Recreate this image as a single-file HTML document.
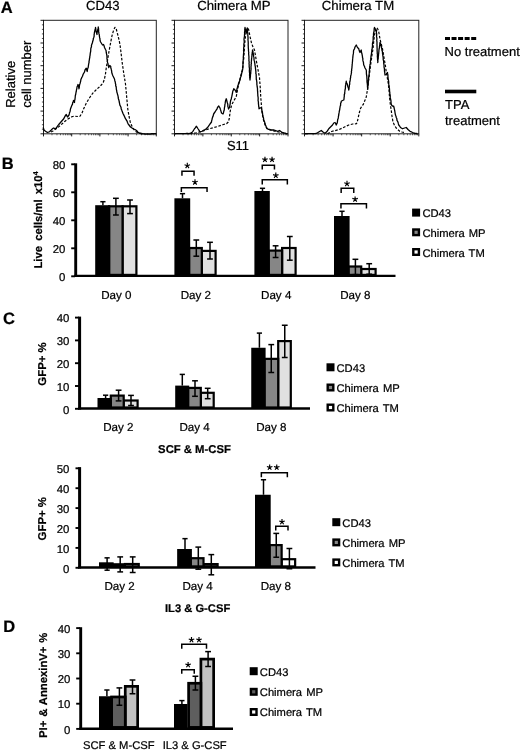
<!DOCTYPE html>
<html><head><meta charset="utf-8"><title>Figure</title>
<style>html,body{margin:0;padding:0;background:#fff;}svg{display:block;will-change:transform;}text{font-family:'Liberation Sans', sans-serif;fill:#000;stroke:#000;stroke-width:0.22px;text-rendering:geometricPrecision;}</style>
</head><body>
<svg width="520" height="752" viewBox="0 0 520 752">
<rect width="520" height="752" fill="#fff"/>
<text x="0.8" y="12.7" font-size="16.5" font-weight="bold" text-anchor="start" >A</text>
<text x="102.8" y="10.3" font-size="13.1" font-weight="normal" text-anchor="middle" >CD43</text>
<text x="233.9" y="10.1" font-size="13.2" font-weight="normal" text-anchor="middle" >Chimera MP</text>
<text x="358.0" y="9.6" font-size="13.2" font-weight="normal" text-anchor="middle" >Chimera TM</text>
<text transform="translate(14.6,107.8) rotate(-90)" font-size="13" font-weight="normal" text-anchor="start" >Relative</text>
<text transform="translate(30.6,107.8) rotate(-90)" font-size="13" font-weight="normal" text-anchor="start" >cell number</text>
<text x="238" y="150" font-size="13" font-weight="normal" text-anchor="middle" >S11</text>
<rect x="43.5" y="20.3" width="112.80000000000001" height="113.50000000000001" fill="none" stroke="#222" stroke-width="1"/>
<line x1="40.5" y1="20.3" x2="43.5" y2="20.3" stroke="#000" stroke-width="0.9" />
<line x1="41.9" y1="24.840000000000003" x2="43.5" y2="24.840000000000003" stroke="#000" stroke-width="0.7" stroke="#444"/>
<line x1="41.9" y1="29.380000000000003" x2="43.5" y2="29.380000000000003" stroke="#000" stroke-width="0.7" stroke="#444"/>
<line x1="41.9" y1="33.92" x2="43.5" y2="33.92" stroke="#000" stroke-width="0.7" stroke="#444"/>
<line x1="41.9" y1="38.46000000000001" x2="43.5" y2="38.46000000000001" stroke="#000" stroke-width="0.7" stroke="#444"/>
<line x1="40.5" y1="43.0" x2="43.5" y2="43.0" stroke="#000" stroke-width="0.9" />
<line x1="41.9" y1="47.54" x2="43.5" y2="47.54" stroke="#000" stroke-width="0.7" stroke="#444"/>
<line x1="41.9" y1="52.08" x2="43.5" y2="52.08" stroke="#000" stroke-width="0.7" stroke="#444"/>
<line x1="41.9" y1="56.620000000000005" x2="43.5" y2="56.620000000000005" stroke="#000" stroke-width="0.7" stroke="#444"/>
<line x1="41.9" y1="61.160000000000004" x2="43.5" y2="61.160000000000004" stroke="#000" stroke-width="0.7" stroke="#444"/>
<line x1="40.5" y1="65.7" x2="43.5" y2="65.7" stroke="#000" stroke-width="0.9" />
<line x1="41.9" y1="70.24000000000001" x2="43.5" y2="70.24000000000001" stroke="#000" stroke-width="0.7" stroke="#444"/>
<line x1="41.9" y1="74.78" x2="43.5" y2="74.78" stroke="#000" stroke-width="0.7" stroke="#444"/>
<line x1="41.9" y1="79.32000000000001" x2="43.5" y2="79.32000000000001" stroke="#000" stroke-width="0.7" stroke="#444"/>
<line x1="41.9" y1="83.86000000000001" x2="43.5" y2="83.86000000000001" stroke="#000" stroke-width="0.7" stroke="#444"/>
<line x1="40.5" y1="88.4" x2="43.5" y2="88.4" stroke="#000" stroke-width="0.9" />
<line x1="41.9" y1="92.94000000000001" x2="43.5" y2="92.94000000000001" stroke="#000" stroke-width="0.7" stroke="#444"/>
<line x1="41.9" y1="97.48" x2="43.5" y2="97.48" stroke="#000" stroke-width="0.7" stroke="#444"/>
<line x1="41.9" y1="102.02000000000001" x2="43.5" y2="102.02000000000001" stroke="#000" stroke-width="0.7" stroke="#444"/>
<line x1="41.9" y1="106.56" x2="43.5" y2="106.56" stroke="#000" stroke-width="0.7" stroke="#444"/>
<line x1="40.5" y1="111.10000000000001" x2="43.5" y2="111.10000000000001" stroke="#000" stroke-width="0.9" />
<line x1="41.9" y1="115.64000000000001" x2="43.5" y2="115.64000000000001" stroke="#000" stroke-width="0.7" stroke="#444"/>
<line x1="41.9" y1="120.18" x2="43.5" y2="120.18" stroke="#000" stroke-width="0.7" stroke="#444"/>
<line x1="41.9" y1="124.72000000000001" x2="43.5" y2="124.72000000000001" stroke="#000" stroke-width="0.7" stroke="#444"/>
<line x1="41.9" y1="129.26000000000002" x2="43.5" y2="129.26000000000002" stroke="#000" stroke-width="0.7" stroke="#444"/>
<line x1="40.5" y1="133.80000000000004" x2="43.5" y2="133.80000000000004" stroke="#000" stroke-width="0.9" />
<line x1="43.5" y1="133.8" x2="43.5" y2="136.4" stroke="#000" stroke-width="0.9" />
<line x1="51.98904587772427" y1="133.8" x2="51.98904587772427" y2="135.3" stroke="#000" stroke-width="0.6" stroke="#555"/>
<line x1="56.95481938309448" y1="133.8" x2="56.95481938309448" y2="135.3" stroke="#000" stroke-width="0.6" stroke="#555"/>
<line x1="60.478091755448546" y1="133.8" x2="60.478091755448546" y2="135.3" stroke="#000" stroke-width="0.6" stroke="#555"/>
<line x1="63.21095412227574" y1="133.8" x2="63.21095412227574" y2="135.3" stroke="#000" stroke-width="0.6" stroke="#555"/>
<line x1="65.44386526081875" y1="133.8" x2="65.44386526081875" y2="135.3" stroke="#000" stroke-width="0.6" stroke="#555"/>
<line x1="67.33176472840205" y1="133.8" x2="67.33176472840205" y2="135.3" stroke="#000" stroke-width="0.6" stroke="#555"/>
<line x1="68.96713763317281" y1="133.8" x2="68.96713763317281" y2="135.3" stroke="#000" stroke-width="0.6" stroke="#555"/>
<line x1="70.40963876618896" y1="133.8" x2="70.40963876618896" y2="135.3" stroke="#000" stroke-width="0.6" stroke="#555"/>
<line x1="71.7" y1="133.8" x2="71.7" y2="136.4" stroke="#000" stroke-width="0.9" />
<line x1="80.18904587772427" y1="133.8" x2="80.18904587772427" y2="135.3" stroke="#000" stroke-width="0.6" stroke="#555"/>
<line x1="85.15481938309449" y1="133.8" x2="85.15481938309449" y2="135.3" stroke="#000" stroke-width="0.6" stroke="#555"/>
<line x1="88.67809175544855" y1="133.8" x2="88.67809175544855" y2="135.3" stroke="#000" stroke-width="0.6" stroke="#555"/>
<line x1="91.41095412227574" y1="133.8" x2="91.41095412227574" y2="135.3" stroke="#000" stroke-width="0.6" stroke="#555"/>
<line x1="93.64386526081876" y1="133.8" x2="93.64386526081876" y2="135.3" stroke="#000" stroke-width="0.6" stroke="#555"/>
<line x1="95.53176472840205" y1="133.8" x2="95.53176472840205" y2="135.3" stroke="#000" stroke-width="0.6" stroke="#555"/>
<line x1="97.16713763317281" y1="133.8" x2="97.16713763317281" y2="135.3" stroke="#000" stroke-width="0.6" stroke="#555"/>
<line x1="98.60963876618897" y1="133.8" x2="98.60963876618897" y2="135.3" stroke="#000" stroke-width="0.6" stroke="#555"/>
<line x1="99.9" y1="133.8" x2="99.9" y2="136.4" stroke="#000" stroke-width="0.9" />
<line x1="108.38904587772427" y1="133.8" x2="108.38904587772427" y2="135.3" stroke="#000" stroke-width="0.6" stroke="#555"/>
<line x1="113.3548193830945" y1="133.8" x2="113.3548193830945" y2="135.3" stroke="#000" stroke-width="0.6" stroke="#555"/>
<line x1="116.87809175544855" y1="133.8" x2="116.87809175544855" y2="135.3" stroke="#000" stroke-width="0.6" stroke="#555"/>
<line x1="119.61095412227574" y1="133.8" x2="119.61095412227574" y2="135.3" stroke="#000" stroke-width="0.6" stroke="#555"/>
<line x1="121.84386526081876" y1="133.8" x2="121.84386526081876" y2="135.3" stroke="#000" stroke-width="0.6" stroke="#555"/>
<line x1="123.73176472840206" y1="133.8" x2="123.73176472840206" y2="135.3" stroke="#000" stroke-width="0.6" stroke="#555"/>
<line x1="125.36713763317282" y1="133.8" x2="125.36713763317282" y2="135.3" stroke="#000" stroke-width="0.6" stroke="#555"/>
<line x1="126.80963876618897" y1="133.8" x2="126.80963876618897" y2="135.3" stroke="#000" stroke-width="0.6" stroke="#555"/>
<line x1="128.10000000000002" y1="133.8" x2="128.10000000000002" y2="136.4" stroke="#000" stroke-width="0.9" />
<line x1="136.5890458777243" y1="133.8" x2="136.5890458777243" y2="135.3" stroke="#000" stroke-width="0.6" stroke="#555"/>
<line x1="141.5548193830945" y1="133.8" x2="141.5548193830945" y2="135.3" stroke="#000" stroke-width="0.6" stroke="#555"/>
<line x1="145.07809175544855" y1="133.8" x2="145.07809175544855" y2="135.3" stroke="#000" stroke-width="0.6" stroke="#555"/>
<line x1="147.81095412227575" y1="133.8" x2="147.81095412227575" y2="135.3" stroke="#000" stroke-width="0.6" stroke="#555"/>
<line x1="150.0438652608188" y1="133.8" x2="150.0438652608188" y2="135.3" stroke="#000" stroke-width="0.6" stroke="#555"/>
<line x1="151.93176472840207" y1="133.8" x2="151.93176472840207" y2="135.3" stroke="#000" stroke-width="0.6" stroke="#555"/>
<line x1="153.56713763317282" y1="133.8" x2="153.56713763317282" y2="135.3" stroke="#000" stroke-width="0.6" stroke="#555"/>
<line x1="155.009638766189" y1="133.8" x2="155.009638766189" y2="135.3" stroke="#000" stroke-width="0.6" stroke="#555"/>
<line x1="156.3" y1="133.8" x2="156.3" y2="136.4" stroke="#000" stroke-width="0.9" />
<rect x="174.5" y="20.3" width="113.5" height="113.50000000000001" fill="none" stroke="#222" stroke-width="1"/>
<line x1="171.5" y1="20.3" x2="174.5" y2="20.3" stroke="#000" stroke-width="0.9" />
<line x1="172.9" y1="24.840000000000003" x2="174.5" y2="24.840000000000003" stroke="#000" stroke-width="0.7" stroke="#444"/>
<line x1="172.9" y1="29.380000000000003" x2="174.5" y2="29.380000000000003" stroke="#000" stroke-width="0.7" stroke="#444"/>
<line x1="172.9" y1="33.92" x2="174.5" y2="33.92" stroke="#000" stroke-width="0.7" stroke="#444"/>
<line x1="172.9" y1="38.46000000000001" x2="174.5" y2="38.46000000000001" stroke="#000" stroke-width="0.7" stroke="#444"/>
<line x1="171.5" y1="43.0" x2="174.5" y2="43.0" stroke="#000" stroke-width="0.9" />
<line x1="172.9" y1="47.54" x2="174.5" y2="47.54" stroke="#000" stroke-width="0.7" stroke="#444"/>
<line x1="172.9" y1="52.08" x2="174.5" y2="52.08" stroke="#000" stroke-width="0.7" stroke="#444"/>
<line x1="172.9" y1="56.620000000000005" x2="174.5" y2="56.620000000000005" stroke="#000" stroke-width="0.7" stroke="#444"/>
<line x1="172.9" y1="61.160000000000004" x2="174.5" y2="61.160000000000004" stroke="#000" stroke-width="0.7" stroke="#444"/>
<line x1="171.5" y1="65.7" x2="174.5" y2="65.7" stroke="#000" stroke-width="0.9" />
<line x1="172.9" y1="70.24000000000001" x2="174.5" y2="70.24000000000001" stroke="#000" stroke-width="0.7" stroke="#444"/>
<line x1="172.9" y1="74.78" x2="174.5" y2="74.78" stroke="#000" stroke-width="0.7" stroke="#444"/>
<line x1="172.9" y1="79.32000000000001" x2="174.5" y2="79.32000000000001" stroke="#000" stroke-width="0.7" stroke="#444"/>
<line x1="172.9" y1="83.86000000000001" x2="174.5" y2="83.86000000000001" stroke="#000" stroke-width="0.7" stroke="#444"/>
<line x1="171.5" y1="88.4" x2="174.5" y2="88.4" stroke="#000" stroke-width="0.9" />
<line x1="172.9" y1="92.94000000000001" x2="174.5" y2="92.94000000000001" stroke="#000" stroke-width="0.7" stroke="#444"/>
<line x1="172.9" y1="97.48" x2="174.5" y2="97.48" stroke="#000" stroke-width="0.7" stroke="#444"/>
<line x1="172.9" y1="102.02000000000001" x2="174.5" y2="102.02000000000001" stroke="#000" stroke-width="0.7" stroke="#444"/>
<line x1="172.9" y1="106.56" x2="174.5" y2="106.56" stroke="#000" stroke-width="0.7" stroke="#444"/>
<line x1="171.5" y1="111.10000000000001" x2="174.5" y2="111.10000000000001" stroke="#000" stroke-width="0.9" />
<line x1="172.9" y1="115.64000000000001" x2="174.5" y2="115.64000000000001" stroke="#000" stroke-width="0.7" stroke="#444"/>
<line x1="172.9" y1="120.18" x2="174.5" y2="120.18" stroke="#000" stroke-width="0.7" stroke="#444"/>
<line x1="172.9" y1="124.72000000000001" x2="174.5" y2="124.72000000000001" stroke="#000" stroke-width="0.7" stroke="#444"/>
<line x1="172.9" y1="129.26000000000002" x2="174.5" y2="129.26000000000002" stroke="#000" stroke-width="0.7" stroke="#444"/>
<line x1="171.5" y1="133.80000000000004" x2="174.5" y2="133.80000000000004" stroke="#000" stroke-width="0.9" />
<line x1="174.5" y1="133.8" x2="174.5" y2="136.4" stroke="#000" stroke-width="0.9" />
<line x1="183.04172612696547" y1="133.8" x2="183.04172612696547" y2="135.3" stroke="#000" stroke-width="0.6" stroke="#555"/>
<line x1="188.03831560267042" y1="133.8" x2="188.03831560267042" y2="135.3" stroke="#000" stroke-width="0.6" stroke="#555"/>
<line x1="191.58345225393094" y1="133.8" x2="191.58345225393094" y2="135.3" stroke="#000" stroke-width="0.6" stroke="#555"/>
<line x1="194.33327387303453" y1="133.8" x2="194.33327387303453" y2="135.3" stroke="#000" stroke-width="0.6" stroke="#555"/>
<line x1="196.5800417296359" y1="133.8" x2="196.5800417296359" y2="135.3" stroke="#000" stroke-width="0.6" stroke="#555"/>
<line x1="198.47965688540455" y1="133.8" x2="198.47965688540455" y2="135.3" stroke="#000" stroke-width="0.6" stroke="#555"/>
<line x1="200.1251783808964" y1="133.8" x2="200.1251783808964" y2="135.3" stroke="#000" stroke-width="0.6" stroke="#555"/>
<line x1="201.57663120534085" y1="133.8" x2="201.57663120534085" y2="135.3" stroke="#000" stroke-width="0.6" stroke="#555"/>
<line x1="202.875" y1="133.8" x2="202.875" y2="136.4" stroke="#000" stroke-width="0.9" />
<line x1="211.41672612696547" y1="133.8" x2="211.41672612696547" y2="135.3" stroke="#000" stroke-width="0.6" stroke="#555"/>
<line x1="216.41331560267042" y1="133.8" x2="216.41331560267042" y2="135.3" stroke="#000" stroke-width="0.6" stroke="#555"/>
<line x1="219.95845225393094" y1="133.8" x2="219.95845225393094" y2="135.3" stroke="#000" stroke-width="0.6" stroke="#555"/>
<line x1="222.70827387303453" y1="133.8" x2="222.70827387303453" y2="135.3" stroke="#000" stroke-width="0.6" stroke="#555"/>
<line x1="224.9550417296359" y1="133.8" x2="224.9550417296359" y2="135.3" stroke="#000" stroke-width="0.6" stroke="#555"/>
<line x1="226.85465688540455" y1="133.8" x2="226.85465688540455" y2="135.3" stroke="#000" stroke-width="0.6" stroke="#555"/>
<line x1="228.5001783808964" y1="133.8" x2="228.5001783808964" y2="135.3" stroke="#000" stroke-width="0.6" stroke="#555"/>
<line x1="229.95163120534085" y1="133.8" x2="229.95163120534085" y2="135.3" stroke="#000" stroke-width="0.6" stroke="#555"/>
<line x1="231.25" y1="133.8" x2="231.25" y2="136.4" stroke="#000" stroke-width="0.9" />
<line x1="239.79172612696547" y1="133.8" x2="239.79172612696547" y2="135.3" stroke="#000" stroke-width="0.6" stroke="#555"/>
<line x1="244.78831560267042" y1="133.8" x2="244.78831560267042" y2="135.3" stroke="#000" stroke-width="0.6" stroke="#555"/>
<line x1="248.33345225393094" y1="133.8" x2="248.33345225393094" y2="135.3" stroke="#000" stroke-width="0.6" stroke="#555"/>
<line x1="251.08327387303453" y1="133.8" x2="251.08327387303453" y2="135.3" stroke="#000" stroke-width="0.6" stroke="#555"/>
<line x1="253.3300417296359" y1="133.8" x2="253.3300417296359" y2="135.3" stroke="#000" stroke-width="0.6" stroke="#555"/>
<line x1="255.22965688540455" y1="133.8" x2="255.22965688540455" y2="135.3" stroke="#000" stroke-width="0.6" stroke="#555"/>
<line x1="256.8751783808964" y1="133.8" x2="256.8751783808964" y2="135.3" stroke="#000" stroke-width="0.6" stroke="#555"/>
<line x1="258.32663120534085" y1="133.8" x2="258.32663120534085" y2="135.3" stroke="#000" stroke-width="0.6" stroke="#555"/>
<line x1="259.625" y1="133.8" x2="259.625" y2="136.4" stroke="#000" stroke-width="0.9" />
<line x1="268.16672612696544" y1="133.8" x2="268.16672612696544" y2="135.3" stroke="#000" stroke-width="0.6" stroke="#555"/>
<line x1="273.1633156026704" y1="133.8" x2="273.1633156026704" y2="135.3" stroke="#000" stroke-width="0.6" stroke="#555"/>
<line x1="276.70845225393094" y1="133.8" x2="276.70845225393094" y2="135.3" stroke="#000" stroke-width="0.6" stroke="#555"/>
<line x1="279.45827387303456" y1="133.8" x2="279.45827387303456" y2="135.3" stroke="#000" stroke-width="0.6" stroke="#555"/>
<line x1="281.70504172963587" y1="133.8" x2="281.70504172963587" y2="135.3" stroke="#000" stroke-width="0.6" stroke="#555"/>
<line x1="283.60465688540455" y1="133.8" x2="283.60465688540455" y2="135.3" stroke="#000" stroke-width="0.6" stroke="#555"/>
<line x1="285.2501783808964" y1="133.8" x2="285.2501783808964" y2="135.3" stroke="#000" stroke-width="0.6" stroke="#555"/>
<line x1="286.70163120534085" y1="133.8" x2="286.70163120534085" y2="135.3" stroke="#000" stroke-width="0.6" stroke="#555"/>
<line x1="288" y1="133.8" x2="288" y2="136.4" stroke="#000" stroke-width="0.9" />
<rect x="304.5" y="20.3" width="114.30000000000001" height="113.50000000000001" fill="none" stroke="#222" stroke-width="1"/>
<line x1="301.5" y1="20.3" x2="304.5" y2="20.3" stroke="#000" stroke-width="0.9" />
<line x1="302.9" y1="24.840000000000003" x2="304.5" y2="24.840000000000003" stroke="#000" stroke-width="0.7" stroke="#444"/>
<line x1="302.9" y1="29.380000000000003" x2="304.5" y2="29.380000000000003" stroke="#000" stroke-width="0.7" stroke="#444"/>
<line x1="302.9" y1="33.92" x2="304.5" y2="33.92" stroke="#000" stroke-width="0.7" stroke="#444"/>
<line x1="302.9" y1="38.46000000000001" x2="304.5" y2="38.46000000000001" stroke="#000" stroke-width="0.7" stroke="#444"/>
<line x1="301.5" y1="43.0" x2="304.5" y2="43.0" stroke="#000" stroke-width="0.9" />
<line x1="302.9" y1="47.54" x2="304.5" y2="47.54" stroke="#000" stroke-width="0.7" stroke="#444"/>
<line x1="302.9" y1="52.08" x2="304.5" y2="52.08" stroke="#000" stroke-width="0.7" stroke="#444"/>
<line x1="302.9" y1="56.620000000000005" x2="304.5" y2="56.620000000000005" stroke="#000" stroke-width="0.7" stroke="#444"/>
<line x1="302.9" y1="61.160000000000004" x2="304.5" y2="61.160000000000004" stroke="#000" stroke-width="0.7" stroke="#444"/>
<line x1="301.5" y1="65.7" x2="304.5" y2="65.7" stroke="#000" stroke-width="0.9" />
<line x1="302.9" y1="70.24000000000001" x2="304.5" y2="70.24000000000001" stroke="#000" stroke-width="0.7" stroke="#444"/>
<line x1="302.9" y1="74.78" x2="304.5" y2="74.78" stroke="#000" stroke-width="0.7" stroke="#444"/>
<line x1="302.9" y1="79.32000000000001" x2="304.5" y2="79.32000000000001" stroke="#000" stroke-width="0.7" stroke="#444"/>
<line x1="302.9" y1="83.86000000000001" x2="304.5" y2="83.86000000000001" stroke="#000" stroke-width="0.7" stroke="#444"/>
<line x1="301.5" y1="88.4" x2="304.5" y2="88.4" stroke="#000" stroke-width="0.9" />
<line x1="302.9" y1="92.94000000000001" x2="304.5" y2="92.94000000000001" stroke="#000" stroke-width="0.7" stroke="#444"/>
<line x1="302.9" y1="97.48" x2="304.5" y2="97.48" stroke="#000" stroke-width="0.7" stroke="#444"/>
<line x1="302.9" y1="102.02000000000001" x2="304.5" y2="102.02000000000001" stroke="#000" stroke-width="0.7" stroke="#444"/>
<line x1="302.9" y1="106.56" x2="304.5" y2="106.56" stroke="#000" stroke-width="0.7" stroke="#444"/>
<line x1="301.5" y1="111.10000000000001" x2="304.5" y2="111.10000000000001" stroke="#000" stroke-width="0.9" />
<line x1="302.9" y1="115.64000000000001" x2="304.5" y2="115.64000000000001" stroke="#000" stroke-width="0.7" stroke="#444"/>
<line x1="302.9" y1="120.18" x2="304.5" y2="120.18" stroke="#000" stroke-width="0.7" stroke="#444"/>
<line x1="302.9" y1="124.72000000000001" x2="304.5" y2="124.72000000000001" stroke="#000" stroke-width="0.7" stroke="#444"/>
<line x1="302.9" y1="129.26000000000002" x2="304.5" y2="129.26000000000002" stroke="#000" stroke-width="0.7" stroke="#444"/>
<line x1="301.5" y1="133.80000000000004" x2="304.5" y2="133.80000000000004" stroke="#000" stroke-width="0.9" />
<line x1="304.5" y1="133.8" x2="304.5" y2="136.4" stroke="#000" stroke-width="0.9" />
<line x1="313.1019321260983" y1="133.8" x2="313.1019321260983" y2="135.3" stroke="#000" stroke-width="0.6" stroke="#555"/>
<line x1="318.1337398536144" y1="133.8" x2="318.1337398536144" y2="135.3" stroke="#000" stroke-width="0.6" stroke="#555"/>
<line x1="321.7038642521965" y1="133.8" x2="321.7038642521965" y2="135.3" stroke="#000" stroke-width="0.6" stroke="#555"/>
<line x1="324.47306787390175" y1="133.8" x2="324.47306787390175" y2="135.3" stroke="#000" stroke-width="0.6" stroke="#555"/>
<line x1="326.7356719797126" y1="133.8" x2="326.7356719797126" y2="135.3" stroke="#000" stroke-width="0.6" stroke="#555"/>
<line x1="328.6486764934074" y1="133.8" x2="328.6486764934074" y2="135.3" stroke="#000" stroke-width="0.6" stroke="#555"/>
<line x1="330.3057963782948" y1="133.8" x2="330.3057963782948" y2="135.3" stroke="#000" stroke-width="0.6" stroke="#555"/>
<line x1="331.7674797072287" y1="133.8" x2="331.7674797072287" y2="135.3" stroke="#000" stroke-width="0.6" stroke="#555"/>
<line x1="333.075" y1="133.8" x2="333.075" y2="136.4" stroke="#000" stroke-width="0.9" />
<line x1="341.6769321260983" y1="133.8" x2="341.6769321260983" y2="135.3" stroke="#000" stroke-width="0.6" stroke="#555"/>
<line x1="346.70873985361436" y1="133.8" x2="346.70873985361436" y2="135.3" stroke="#000" stroke-width="0.6" stroke="#555"/>
<line x1="350.2788642521965" y1="133.8" x2="350.2788642521965" y2="135.3" stroke="#000" stroke-width="0.6" stroke="#555"/>
<line x1="353.04806787390174" y1="133.8" x2="353.04806787390174" y2="135.3" stroke="#000" stroke-width="0.6" stroke="#555"/>
<line x1="355.3106719797126" y1="133.8" x2="355.3106719797126" y2="135.3" stroke="#000" stroke-width="0.6" stroke="#555"/>
<line x1="357.22367649340737" y1="133.8" x2="357.22367649340737" y2="135.3" stroke="#000" stroke-width="0.6" stroke="#555"/>
<line x1="358.8807963782948" y1="133.8" x2="358.8807963782948" y2="135.3" stroke="#000" stroke-width="0.6" stroke="#555"/>
<line x1="360.3424797072287" y1="133.8" x2="360.3424797072287" y2="135.3" stroke="#000" stroke-width="0.6" stroke="#555"/>
<line x1="361.65" y1="133.8" x2="361.65" y2="136.4" stroke="#000" stroke-width="0.9" />
<line x1="370.25193212609827" y1="133.8" x2="370.25193212609827" y2="135.3" stroke="#000" stroke-width="0.6" stroke="#555"/>
<line x1="375.28373985361435" y1="133.8" x2="375.28373985361435" y2="135.3" stroke="#000" stroke-width="0.6" stroke="#555"/>
<line x1="378.8538642521965" y1="133.8" x2="378.8538642521965" y2="135.3" stroke="#000" stroke-width="0.6" stroke="#555"/>
<line x1="381.62306787390173" y1="133.8" x2="381.62306787390173" y2="135.3" stroke="#000" stroke-width="0.6" stroke="#555"/>
<line x1="383.8856719797126" y1="133.8" x2="383.8856719797126" y2="135.3" stroke="#000" stroke-width="0.6" stroke="#555"/>
<line x1="385.79867649340736" y1="133.8" x2="385.79867649340736" y2="135.3" stroke="#000" stroke-width="0.6" stroke="#555"/>
<line x1="387.4557963782948" y1="133.8" x2="387.4557963782948" y2="135.3" stroke="#000" stroke-width="0.6" stroke="#555"/>
<line x1="388.91747970722867" y1="133.8" x2="388.91747970722867" y2="135.3" stroke="#000" stroke-width="0.6" stroke="#555"/>
<line x1="390.225" y1="133.8" x2="390.225" y2="136.4" stroke="#000" stroke-width="0.9" />
<line x1="398.8269321260983" y1="133.8" x2="398.8269321260983" y2="135.3" stroke="#000" stroke-width="0.6" stroke="#555"/>
<line x1="403.8587398536144" y1="133.8" x2="403.8587398536144" y2="135.3" stroke="#000" stroke-width="0.6" stroke="#555"/>
<line x1="407.42886425219655" y1="133.8" x2="407.42886425219655" y2="135.3" stroke="#000" stroke-width="0.6" stroke="#555"/>
<line x1="410.1980678739018" y1="133.8" x2="410.1980678739018" y2="135.3" stroke="#000" stroke-width="0.6" stroke="#555"/>
<line x1="412.46067197971263" y1="133.8" x2="412.46067197971263" y2="135.3" stroke="#000" stroke-width="0.6" stroke="#555"/>
<line x1="414.3736764934074" y1="133.8" x2="414.3736764934074" y2="135.3" stroke="#000" stroke-width="0.6" stroke="#555"/>
<line x1="416.03079637829484" y1="133.8" x2="416.03079637829484" y2="135.3" stroke="#000" stroke-width="0.6" stroke="#555"/>
<line x1="417.4924797072287" y1="133.8" x2="417.4924797072287" y2="135.3" stroke="#000" stroke-width="0.6" stroke="#555"/>
<line x1="418.8" y1="133.8" x2="418.8" y2="136.4" stroke="#000" stroke-width="0.9" />
<polyline points="43.00,127.50 43.56,128.55 44.00,130.00 45.50,131.25 47.50,132.50 49.50,131.75 51.25,130.00 52.57,128.61 53.75,128.00 55.50,129.00 57.00,127.00 57.88,125.74 58.75,124.50 60.50,122.50 62.00,120.75 63.75,118.75 64.42,117.37 65.00,116.25 66.25,114.50 66.78,115.62 67.50,117.00 69.00,115.00 69.43,113.42 69.52,112.64 70.02,111.74 70.32,109.96 70.50,108.75 71.02,107.63 71.40,106.45 72.00,105.00 72.46,104.35 72.68,102.70 73.21,101.86 73.50,100.50 74.50,102.50 74.54,100.77 74.95,99.54 75.04,98.50 75.19,97.52 75.29,95.93 75.50,95.00 75.77,94.07 75.85,93.19 76.28,91.46 76.44,90.05 76.61,89.33 76.87,88.55 77.00,87.00 77.46,86.08 78.00,84.50 78.38,85.43 78.62,86.94 79.00,88.75 79.27,87.37 79.36,86.55 79.58,84.59 80.00,83.75 80.19,82.90 80.64,81.24 80.89,79.60 81.25,78.75 81.86,77.31 82.50,76.25 83.08,74.37 83.75,73.25 84.55,71.92 85.00,70.00 86.25,68.25 86.72,69.94 87.25,71.50 87.31,70.66 87.61,68.75 88.10,67.82 88.38,65.98 88.50,65.00 88.79,63.30 89.11,62.03 88.99,61.74 89.40,59.54 89.44,58.89 89.75,57.50 89.78,56.66 90.06,55.36 90.25,53.41 90.53,52.00 90.70,51.04 90.75,50.00 90.80,48.62 91.13,47.54 91.45,46.91 91.46,45.31 91.75,44.50 92.32,42.97 92.75,41.25 93.24,39.71 93.27,38.81 93.75,37.50 94.15,36.18 94.10,34.56 94.26,33.98 94.44,32.35 94.75,31.25 94.97,29.88 95.37,29.16 95.50,27.50 95.74,28.60 95.90,29.87 96.16,31.28 96.25,32.00 96.59,33.10 97.00,34.50 97.01,33.19 97.36,31.67 97.62,31.17 97.75,29.50 98.12,28.70 98.25,27.00 98.54,28.56 98.56,29.25 98.68,30.85 98.57,31.03 98.80,32.74 99.00,33.75 99.26,34.62 99.44,36.34 99.69,37.90 99.93,38.53 100.00,40.00 100.47,41.74 101.25,43.00 102.50,45.00 103.50,44.50 104.17,46.09 104.50,47.50 105.50,49.50 106.04,50.51 106.25,52.50 106.54,53.88 106.76,54.84 106.93,55.99 107.00,57.50 106.96,58.99 107.37,60.01 107.29,60.36 107.41,61.67 107.75,63.00 108.05,63.70 108.23,65.66 108.40,65.92 108.75,67.50 109.75,65.50 110.75,66.50 110.80,67.97 111.32,69.22 111.34,69.88 111.66,70.95 111.75,72.50 112.39,74.47 112.75,75.50 113.75,77.50 114.50,79.00 114.82,80.74 115.25,82.00 115.41,83.47 115.72,84.33 115.69,86.01 116.19,86.58 116.25,88.00 116.39,89.54 116.71,90.63 116.86,92.19 117.25,93.00 117.35,93.86 117.84,95.31 118.14,96.73 118.25,98.00 118.50,98.98 119.01,100.54 119.25,102.00 119.60,103.58 119.89,105.20 120.50,106.25 121.08,107.62 121.18,109.04 121.75,110.00 122.05,110.95 122.72,112.73 123.00,113.50 123.85,115.11 124.50,116.50 125.21,118.16 126.00,119.50 126.93,120.79 127.50,122.50 128.28,124.10 129.00,125.00 130.50,127.00 132.00,128.00 133.50,129.00 135.00,129.50 136.50,130.50 138.00,132.25 140.00,133.25 141.28,133.51 142.50,133.75 143.71,133.88 145.00,134.01 146.24,134.08 147.50,134.00 148.72,134.08 149.94,134.07 151.24,133.76 152.49,133.74 153.73,133.70 154.95,133.68 156.25,133.75" fill="none" stroke="#000" stroke-width="1.3" stroke-linejoin="round" />
<polyline points="51.00,132.00 53.00,131.00 55.00,129.50 57.50,127.75 60.00,125.75 62.50,123.50 65.00,121.25 67.50,119.25 70.00,117.75 72.50,116.50 75.00,116.25 77.50,116.50 80.00,116.25 82.00,113.00 84.00,108.00 86.25,103.25 88.50,99.50 90.75,96.00 92.75,93.25 95.00,91.00 97.00,89.00 99.25,87.00 101.50,84.75 103.25,82.50 104.50,78.75 105.50,73.75 106.25,68.00 107.25,62.00 108.25,55.75 109.50,48.75 110.75,42.00 112.00,35.75 113.50,30.50 115.00,27.25 116.25,29.00 117.50,33.75 118.75,38.75 120.00,44.50 121.00,52.50 122.25,63.00 123.25,70.00 124.25,76.50 125.50,84.00 126.50,95.00 127.75,108.75 129.00,116.25 130.25,122.00 132.00,126.25 134.25,130.00 136.50,132.00 139.00,133.25 142.50,133.75" fill="none" stroke="#000" stroke-width="1.2" stroke-linejoin="round" stroke-dasharray="2.6 1.6"/>
<polyline points="175.00,133.75 176.17,133.62 177.29,133.69 178.49,133.57 179.60,133.63 180.78,133.58 181.94,133.65 183.08,133.63 184.18,133.55 185.39,133.58 186.57,133.50 187.73,133.46 188.83,133.58 190.00,133.50 191.23,132.77 192.50,132.00 193.55,130.24 194.50,128.75 195.25,127.82 196.25,126.25 197.22,127.49 198.00,128.75 199.09,130.32 200.00,132.00 202.00,131.25 204.00,130.00 204.99,129.62 206.25,128.75 208.00,127.00 208.89,125.70 210.00,124.00 211.50,122.00 211.60,120.69 211.96,120.01 212.10,118.85 212.50,117.50 213.05,116.31 213.30,115.27 213.75,113.75 215.00,112.00 216.25,110.00 216.97,109.15 217.50,107.50 218.75,106.00 220.00,108.00 220.31,109.14 220.66,110.17 221.16,111.83 221.50,113.00 223.00,114.00 223.44,112.95 223.82,111.10 224.25,110.00 224.34,108.78 224.52,107.29 224.81,106.05 224.87,104.77 225.11,103.69 225.25,102.50 225.50,101.02 225.95,99.63 226.25,98.75 226.69,100.27 226.85,100.86 227.25,102.50 227.59,103.52 227.84,104.72 227.84,106.38 228.33,107.88 228.50,109.00 229.50,107.50 229.76,105.91 229.89,105.31 230.16,103.85 230.29,102.45 230.50,101.25 230.79,100.02 231.32,99.00 231.50,97.50 231.71,96.74 232.04,95.34 232.26,94.20 232.50,93.00 232.78,91.25 233.34,89.93 233.75,88.75 235.00,90.00 235.72,91.10 236.25,92.50 236.45,91.41 236.77,90.09 237.10,88.37 237.50,87.50 237.65,86.10 238.21,85.22 238.41,83.90 238.75,83.00 239.30,81.65 240.00,80.00 240.28,78.39 240.58,77.27 241.00,76.25 241.36,75.13 241.66,73.45 242.00,72.00 242.46,70.66 242.75,68.75 242.95,67.65 243.03,66.66 242.96,65.38 242.98,64.48 242.93,63.20 243.00,61.68 243.15,60.86 243.21,59.51 243.38,58.68 243.28,57.56 243.35,56.31 243.50,55.00 243.48,54.04 243.71,52.96 243.73,51.62 243.56,50.54 243.66,49.29 243.68,47.60 243.94,46.62 243.92,46.02 243.83,44.20 244.09,43.04 244.20,42.51 244.22,40.80 244.00,39.79 244.04,38.91 244.25,37.50 244.49,36.14 244.49,35.06 244.55,34.50 244.63,33.27 244.54,32.24 244.82,30.87 244.72,29.72 244.87,28.61 245.00,27.50 245.29,28.80 245.75,30.50 246.02,31.67 246.50,33.00 246.69,31.64 246.73,30.57 247.09,28.89 247.25,28.00 247.30,29.47 247.29,30.19 247.60,31.92 247.55,32.52 247.87,33.56 247.82,35.42 247.98,36.65 248.00,37.50 248.07,38.82 247.94,39.52 248.15,41.27 248.20,42.07 248.27,43.70 248.19,44.37 248.24,45.99 248.30,46.80 248.31,48.03 248.49,49.40 248.47,50.56 248.58,51.40 248.76,52.52 248.62,53.49 248.75,55.00 248.91,56.48 248.94,56.99 248.89,58.70 249.00,59.96 248.87,60.49 249.19,62.13 249.03,63.55 249.12,64.22 249.18,65.14 249.17,66.91 249.41,68.04 249.49,69.07 249.37,70.48 249.43,71.73 249.50,72.50 249.72,73.62 249.51,75.06 249.74,76.07 249.68,77.62 249.89,78.47 250.00,80.00 250.13,78.69 250.26,77.57 250.46,75.92 250.39,74.93 250.74,73.55 250.75,72.50 250.86,70.99 250.96,70.19 251.05,69.14 251.08,68.32 250.96,66.80 251.18,65.62 251.07,64.65 251.37,63.76 251.23,62.06 251.39,61.39 251.50,60.00 251.58,58.88 251.70,57.90 251.79,56.87 251.98,55.27 252.05,54.70 252.19,52.98 252.37,51.90 252.49,51.45 252.50,50.00 252.91,51.04 253.03,52.79 253.32,53.64 253.50,55.00 253.62,56.63 254.05,57.90 253.94,58.99 254.17,60.40 254.50,61.25 254.57,62.47 254.92,63.97 254.97,65.09 255.30,66.55 255.39,67.11 255.50,68.75 255.67,69.69 255.76,70.61 255.91,72.05 255.82,73.22 256.16,74.45 256.18,75.50 256.21,76.52 256.29,77.90 256.25,79.03 256.50,80.00 256.63,80.73 256.86,82.40 256.87,83.09 256.84,84.49 257.07,85.62 257.11,86.47 257.37,87.85 257.48,88.67 257.50,90.00 257.55,91.19 257.67,91.96 257.68,92.99 257.83,94.78 257.79,95.42 257.99,96.55 258.15,97.76 258.17,98.98 258.06,100.27 258.25,101.25 258.45,102.54 258.42,103.60 258.66,105.24 258.60,105.90 258.93,107.22 259.00,108.75 260.00,108.00 261.25,107.50 261.46,108.61 261.87,109.85 261.88,110.77 262.26,111.83 262.50,113.00 262.59,113.99 262.76,115.53 263.08,116.66 263.49,117.88 263.60,118.78 263.75,120.00 264.32,121.29 264.67,122.15 265.08,123.83 265.50,125.00 266.11,126.55 266.82,127.86 267.50,128.75 268.64,129.35 270.00,129.50 271.34,129.98 272.50,130.00 273.73,129.95 275.00,130.50 276.26,130.78 277.50,131.25 279.50,130.50 281.50,132.00 282.60,132.51 283.75,133.00 284.98,133.21 286.21,133.53 287.50,133.75" fill="none" stroke="#000" stroke-width="1.3" stroke-linejoin="round" />
<polyline points="190.00,133.75 196.25,132.75 201.50,131.50 209.25,128.75 217.00,126.75 222.75,124.75 226.50,123.75 228.25,122.00 229.25,118.75 230.25,111.00 231.25,106.50 232.25,103.75 234.25,100.00 236.25,96.75 238.00,87.50 240.25,77.75 242.25,70.00 243.75,58.50 244.75,43.00 245.50,36.25 246.25,31.00 247.75,27.50 248.75,30.00 249.50,33.75 250.50,38.75 251.50,43.00 253.00,47.00 254.50,50.00 256.25,60.25 258.25,71.00 259.50,77.75 260.25,87.50 260.75,97.00 262.00,112.25 263.00,118.00 264.00,122.00 265.50,126.00 267.00,128.75 270.75,130.25 276.50,131.50 282.50,132.50 287.50,133.75" fill="none" stroke="#000" stroke-width="1.2" stroke-linejoin="round" stroke-dasharray="2.6 1.6"/>
<polyline points="305.00,133.75 306.15,133.71 307.24,133.75 308.36,133.71 309.52,133.56 310.66,133.65 311.70,133.64 312.85,133.68 314.02,133.58 315.12,133.63 316.25,133.50 317.48,132.79 318.75,132.00 319.99,131.22 321.25,130.50 323.00,132.00 325.00,133.25 327.00,131.50 327.89,130.10 328.75,128.75 330.00,127.50 331.50,126.00 332.50,125.00 333.75,123.00 335.00,122.50 335.72,123.64 336.25,125.00 336.58,124.10 337.23,122.84 337.50,121.25 337.66,119.78 338.07,118.85 338.32,117.39 338.46,116.27 338.75,115.00 338.89,113.67 339.09,112.69 339.33,111.06 339.62,110.11 339.85,108.40 340.00,107.50 340.25,105.97 340.60,105.34 340.60,103.38 341.13,102.38 341.25,101.25 342.50,100.50 343.75,100.00 343.98,99.18 344.10,97.38 344.28,96.49 344.28,95.84 344.32,94.36 344.72,93.63 344.74,91.89 344.85,91.38 345.00,90.00 345.30,88.84 345.45,87.71 345.41,86.41 345.69,84.88 345.77,83.70 346.03,82.81 346.25,81.25 346.55,82.87 347.04,83.56 347.50,85.00 347.70,86.21 348.12,87.33 348.56,88.64 348.75,90.00 349.06,88.43 349.10,87.38 349.31,86.44 349.37,85.36 349.74,84.01 349.67,82.34 350.00,81.25 350.25,79.88 350.32,78.44 350.62,77.44 350.68,75.95 351.07,74.73 351.25,73.75 351.50,72.39 351.39,71.41 351.70,70.29 351.63,69.27 351.94,67.79 351.97,66.71 352.12,65.83 352.12,64.81 352.27,63.67 352.39,62.34 352.50,61.25 352.58,60.01 352.64,58.92 352.75,58.14 352.85,57.07 353.04,55.25 353.16,54.55 353.37,53.69 353.50,52.45 353.51,51.22 353.75,50.00 354.52,48.79 355.00,47.00 356.25,45.00 356.89,46.32 357.50,47.50 358.75,48.75 359.02,49.78 359.46,51.26 360.00,52.50 360.50,51.35 361.25,50.00 361.42,51.54 361.60,52.48 361.98,53.98 362.18,55.02 362.43,56.47 362.50,57.50 362.84,58.47 362.83,59.91 362.99,60.96 363.42,62.12 363.62,64.09 363.75,65.00 364.42,66.30 365.00,68.00 366.25,70.00 366.35,71.05 366.37,72.39 366.43,73.74 366.49,74.47 366.72,76.00 366.84,76.61 366.86,78.12 366.98,79.01 367.00,80.50 367.00,81.79 367.26,83.27 367.32,84.04 367.50,85.85 367.42,86.46 367.64,88.09 367.75,89.25 367.72,87.94 367.89,86.57 367.92,85.77 368.19,85.02 368.06,83.38 368.46,82.10 368.25,80.99 368.50,80.00 368.56,78.84 368.66,77.56 368.87,76.04 369.04,75.02 369.19,74.06 369.22,72.85 369.25,71.25 369.49,70.43 369.47,68.61 369.58,68.00 369.72,66.35 369.90,65.39 370.00,64.50 370.29,63.65 370.40,62.28 370.47,60.65 370.67,59.66 370.71,58.93 370.98,57.08 370.96,56.46 371.25,55.00 371.43,54.01 371.55,52.93 371.70,51.86 371.73,50.77 371.81,49.77 372.23,48.32 372.30,46.88 372.50,46.36 372.50,45.00 372.45,43.80 372.59,42.79 372.87,41.65 372.99,40.90 373.18,39.14 373.18,38.35 373.13,36.83 373.53,36.43 373.50,35.00 373.52,33.52 373.71,32.54 374.14,31.02 374.07,30.37 374.23,28.45 374.50,27.50 375.50,29.50 376.50,30.50 376.41,31.58 376.43,32.98 376.67,33.67 376.69,35.14 376.55,35.97 376.61,36.90 376.90,38.17 376.86,39.26 376.73,40.93 376.98,41.76 376.99,42.49 376.96,43.72 377.00,45.00 377.03,46.40 377.05,46.99 377.10,48.46 377.12,49.39 377.10,50.47 377.24,52.18 377.23,53.28 377.47,54.59 377.38,55.72 377.35,56.60 377.50,57.95 377.52,58.81 377.61,60.24 377.84,61.23 377.75,62.50 377.92,61.54 377.82,60.46 378.09,59.03 378.35,57.68 378.16,57.27 378.52,55.49 378.45,54.80 378.67,53.77 378.75,52.50 378.87,51.69 378.90,50.48 379.10,49.00 379.44,47.70 379.47,47.26 379.53,46.10 379.79,44.97 379.83,43.67 380.00,42.50 380.52,43.63 380.68,45.26 381.25,46.25 381.48,47.34 381.85,49.00 381.92,50.17 382.32,51.19 382.50,52.50 382.52,53.78 382.83,54.77 382.82,56.01 383.07,56.62 383.21,58.23 383.16,59.42 383.51,60.65 383.63,61.32 383.69,62.46 383.75,63.75 384.01,64.91 384.04,66.14 384.02,67.01 384.23,67.90 384.44,69.05 384.50,70.88 384.50,71.40 384.74,72.43 384.84,73.48 385.00,75.00 386.25,74.50 387.50,72.50 387.53,73.57 387.94,74.93 387.89,76.15 387.97,76.73 388.11,78.56 388.29,79.24 388.50,80.50 388.78,82.05 388.64,82.92 388.79,84.42 389.01,85.30 389.20,86.19 389.20,87.62 389.52,88.81 389.50,90.00 389.64,91.61 389.86,92.77 389.81,94.08 390.15,94.80 390.25,95.98 390.21,97.82 390.50,98.75 390.84,100.20 391.00,101.12 391.00,102.32 391.23,104.06 391.50,105.00 392.50,106.00 393.75,106.25 394.00,107.77 394.19,108.45 394.50,109.71 394.83,111.24 395.00,112.50 395.23,113.87 395.56,115.26 396.00,116.29 396.25,117.50 396.77,118.45 397.00,120.37 397.50,121.25 397.98,122.11 398.38,123.70 398.75,125.00 399.66,126.19 400.50,127.50 402.50,128.75 404.50,128.00 406.25,127.50 408.00,129.50 410.00,131.25 411.24,131.80 412.53,132.53 413.75,133.00 415.01,133.31 416.24,133.49 417.50,133.75" fill="none" stroke="#000" stroke-width="1.3" stroke-linejoin="round" />
<polyline points="327.50,133.75 331.50,131.50 339.25,129.50 345.00,126.75 348.75,125.00 352.75,124.00 356.50,123.75 357.50,121.00 358.50,116.25 359.50,112.00 360.50,108.50 361.75,106.25 363.25,104.50 364.75,100.75 366.25,97.00 367.25,91.00 368.00,85.50 368.75,79.50 369.50,73.75 370.25,68.00 371.00,62.25 372.00,55.00 373.00,48.75 373.75,41.00 374.75,33.50 375.75,29.50 376.75,27.75 377.75,29.00 378.75,31.75 379.50,36.25 380.50,41.25 381.50,45.00 382.50,48.75 383.50,54.50 384.50,60.50 385.50,66.25 386.25,72.00 387.25,77.50 388.25,83.50 389.00,90.00 389.50,97.00 390.25,103.75 391.25,110.50 392.00,116.25 393.00,122.00 394.50,125.25 396.00,127.75 397.75,129.50 399.75,131.25 402.00,132.00 404.50,132.50" fill="none" stroke="#000" stroke-width="1.2" stroke-linejoin="round" stroke-dasharray="2.6 1.6"/>
<line x1="445" y1="38.5" x2="476.3" y2="38.5" stroke="#000" stroke-width="3.2" stroke-dasharray="5 1.55"/>
<text x="444.6" y="56.2" font-size="13" font-weight="normal" text-anchor="start" >No treatment</text>
<line x1="445" y1="91.5" x2="476.3" y2="91.5" stroke="#000" stroke-width="3.6"/>
<text x="445" y="109.4" font-size="13" font-weight="normal" text-anchor="start" >TPA</text>
<text x="445" y="124.8" font-size="13" font-weight="normal" text-anchor="start" >treatment</text>
<text x="1.8" y="168.8" font-size="16.5" font-weight="bold" text-anchor="start" >B</text>
<line x1="75.7" y1="163.3" x2="75.7" y2="277.0" stroke="#000" stroke-width="2.9" />
<line x1="74.3" y1="275.9" x2="395.5" y2="275.9" stroke="#000" stroke-width="2.2" />
<line x1="71.2" y1="276.3" x2="75" y2="276.3" stroke="#000" stroke-width="1.9" />
<text x="65.3" y="281.1" font-size="11.4" font-weight="normal" text-anchor="end" >0</text>
<line x1="71.2" y1="248.3" x2="75" y2="248.3" stroke="#000" stroke-width="1.9" />
<text x="65.3" y="253.10000000000002" font-size="11.4" font-weight="normal" text-anchor="end" >20</text>
<line x1="71.2" y1="220.3" x2="75" y2="220.3" stroke="#000" stroke-width="1.9" />
<text x="65.3" y="225.10000000000002" font-size="11.4" font-weight="normal" text-anchor="end" >40</text>
<line x1="71.2" y1="192.3" x2="75" y2="192.3" stroke="#000" stroke-width="1.9" />
<text x="65.3" y="197.10000000000002" font-size="11.4" font-weight="normal" text-anchor="end" >60</text>
<line x1="71.2" y1="164.3" x2="75" y2="164.3" stroke="#000" stroke-width="1.9" />
<text x="65.3" y="169.10000000000002" font-size="11.4" font-weight="normal" text-anchor="end" >80</text>
<text transform="translate(41.9,220) rotate(-90)" font-size="11.3" font-weight="bold" text-anchor="middle" word-spacing="2">Live cells/ml x10<tspan font-size="7" dy="-3.6">4</tspan></text>
<rect x="122.55" y="206.30" width="13.85" height="68.60" fill="#e0e0e0" stroke="#000" stroke-width="2.2"/>
<rect x="109.10" y="206.30" width="13.45" height="68.60" fill="#868686" stroke="#000" stroke-width="2.2"/>
<rect x="95.20" y="205.20" width="15.00" height="70.80" fill="#000"/>
<line x1="102.9" y1="201.7" x2="102.9" y2="205.2" stroke="#000" stroke-width="1.5" />
<line x1="100.30000000000001" y1="201.7" x2="105.5" y2="201.7" stroke="#000" stroke-width="1.5" />
<line x1="115.9" y1="198.3" x2="115.9" y2="215" stroke="#000" stroke-width="1.5" />
<line x1="113.0" y1="198.3" x2="118.80000000000001" y2="198.3" stroke="#000" stroke-width="1.5" />
<line x1="113.0" y1="215" x2="118.80000000000001" y2="215" stroke="#000" stroke-width="1.5" />
<line x1="130" y1="200" x2="130" y2="213.6" stroke="#000" stroke-width="1.5" />
<line x1="127.1" y1="200" x2="132.9" y2="200" stroke="#000" stroke-width="1.5" />
<line x1="127.1" y1="213.6" x2="132.9" y2="213.6" stroke="#000" stroke-width="1.5" />
<rect x="201.80" y="250.90" width="13.80" height="24.00" fill="#e0e0e0" stroke="#000" stroke-width="2.2"/>
<rect x="189.10" y="248.00" width="12.70" height="26.90" fill="#868686" stroke="#000" stroke-width="2.2"/>
<rect x="174.40" y="198.30" width="15.80" height="77.70" fill="#000"/>
<line x1="182.5" y1="193.65" x2="182.5" y2="198.3" stroke="#000" stroke-width="1.5" />
<line x1="179.9" y1="193.65" x2="185.1" y2="193.65" stroke="#000" stroke-width="1.5" />
<line x1="196.3" y1="240" x2="196.3" y2="256.2" stroke="#000" stroke-width="1.5" />
<line x1="193.4" y1="240" x2="199.20000000000002" y2="240" stroke="#000" stroke-width="1.5" />
<line x1="193.4" y1="256.2" x2="199.20000000000002" y2="256.2" stroke="#000" stroke-width="1.5" />
<line x1="210" y1="242.3" x2="210" y2="259" stroke="#000" stroke-width="1.5" />
<line x1="207.1" y1="242.3" x2="212.9" y2="242.3" stroke="#000" stroke-width="1.5" />
<line x1="207.1" y1="259" x2="212.9" y2="259" stroke="#000" stroke-width="1.5" />
<rect x="282.10" y="248.00" width="13.50" height="26.90" fill="#e0e0e0" stroke="#000" stroke-width="2.2"/>
<rect x="268.70" y="250.60" width="13.40" height="24.30" fill="#868686" stroke="#000" stroke-width="2.2"/>
<rect x="254.40" y="191.00" width="15.40" height="85.00" fill="#000"/>
<line x1="262.5" y1="188.3" x2="262.5" y2="191" stroke="#000" stroke-width="1.5" />
<line x1="259.9" y1="188.3" x2="265.1" y2="188.3" stroke="#000" stroke-width="1.5" />
<line x1="275.6" y1="245.8" x2="275.6" y2="257.5" stroke="#000" stroke-width="1.5" />
<line x1="272.70000000000005" y1="245.8" x2="278.5" y2="245.8" stroke="#000" stroke-width="1.5" />
<line x1="272.70000000000005" y1="257.5" x2="278.5" y2="257.5" stroke="#000" stroke-width="1.5" />
<line x1="289.8" y1="236.5" x2="289.8" y2="260.2" stroke="#000" stroke-width="1.5" />
<line x1="286.90000000000003" y1="236.5" x2="292.7" y2="236.5" stroke="#000" stroke-width="1.5" />
<line x1="286.90000000000003" y1="260.2" x2="292.7" y2="260.2" stroke="#000" stroke-width="1.5" />
<rect x="361.20" y="269.00" width="14.40" height="5.90" fill="#e0e0e0" stroke="#000" stroke-width="2.2"/>
<rect x="348.50" y="266.50" width="12.70" height="8.40" fill="#868686" stroke="#000" stroke-width="2.2"/>
<rect x="334.00" y="216.00" width="15.60" height="60.00" fill="#000"/>
<line x1="342" y1="211.3" x2="342" y2="216" stroke="#000" stroke-width="1.5" />
<line x1="339.4" y1="211.3" x2="344.6" y2="211.3" stroke="#000" stroke-width="1.5" />
<line x1="355.4" y1="259.3" x2="355.4" y2="274.6" stroke="#000" stroke-width="1.5" />
<line x1="352.5" y1="259.3" x2="358.29999999999995" y2="259.3" stroke="#000" stroke-width="1.5" />
<line x1="352.5" y1="274.6" x2="358.29999999999995" y2="274.6" stroke="#000" stroke-width="1.5" />
<line x1="369.2" y1="263.7" x2="369.2" y2="274.2" stroke="#000" stroke-width="1.5" />
<line x1="366.3" y1="263.7" x2="372.09999999999997" y2="263.7" stroke="#000" stroke-width="1.5" />
<line x1="366.3" y1="274.2" x2="372.09999999999997" y2="274.2" stroke="#000" stroke-width="1.5" />
<text x="116.3" y="299.3" font-size="11.6" font-weight="normal" text-anchor="middle" >Day 0</text>
<text x="195.8" y="299.3" font-size="11.6" font-weight="normal" text-anchor="middle" >Day 2</text>
<text x="276.2" y="299.3" font-size="11.6" font-weight="normal" text-anchor="middle" >Day 4</text>
<text x="355.4" y="299.3" font-size="11.6" font-weight="normal" text-anchor="middle" >Day 8</text>
<path d="M181.95,175.79999999999998 L181.95,171.35 L194.05,171.35 L194.05,175.79999999999998" fill="none" stroke="#000" stroke-width="1.5"/>
<path d="M187.30,165.70 L187.30,162.80 M187.30,165.70 L190.06,164.80 M187.30,165.70 L189.00,168.05 M187.30,165.70 L185.60,168.05 M187.30,165.70 L184.54,164.80 " fill="none" stroke="#000" stroke-width="1.15"/>
<path d="M181.35,191.9 L181.35,187.75 L207.05,187.75 L207.05,191.9" fill="none" stroke="#000" stroke-width="1.5"/>
<path d="M195.00,182.20 L195.00,179.30 M195.00,182.20 L197.76,181.30 M195.00,182.20 L196.70,184.55 M195.00,182.20 L193.30,184.55 M195.00,182.20 L192.24,181.30 " fill="none" stroke="#000" stroke-width="1.15"/>
<path d="M262.25,169.4 L262.25,165.15 L274.45,165.15 L274.45,169.4" fill="none" stroke="#000" stroke-width="1.5"/>
<path d="M264.95,159.60 L264.95,156.70 M264.95,159.60 L267.71,158.70 M264.95,159.60 L266.65,161.95 M264.95,159.60 L263.25,161.95 M264.95,159.60 L262.19,158.70 " fill="none" stroke="#000" stroke-width="1.15"/>
<path d="M272.05,159.60 L272.05,156.70 M272.05,159.60 L274.81,158.70 M272.05,159.60 L273.75,161.95 M272.05,159.60 L270.35,161.95 M272.05,159.60 L269.29,158.70 " fill="none" stroke="#000" stroke-width="1.15"/>
<path d="M262.25,184.4 L262.25,179.85 L287.35,179.85 L287.35,184.4" fill="none" stroke="#000" stroke-width="1.5"/>
<path d="M275.80,175.50 L275.80,172.60 M275.80,175.50 L278.56,174.60 M275.80,175.50 L277.50,177.85 M275.80,175.50 L274.10,177.85 M275.80,175.50 L273.04,174.60 " fill="none" stroke="#000" stroke-width="1.15"/>
<path d="M341.15,192.9 L341.15,188.25 L353.75,188.25 L353.75,192.9" fill="none" stroke="#000" stroke-width="1.5"/>
<path d="M347.00,183.70 L347.00,180.80 M347.00,183.70 L349.76,182.80 M347.00,183.70 L348.70,186.05 M347.00,183.70 L345.30,186.05 M347.00,183.70 L344.24,182.80 " fill="none" stroke="#000" stroke-width="1.15"/>
<path d="M340.95,208.5 L340.95,203.75 L366.45,203.75 L366.45,208.5" fill="none" stroke="#000" stroke-width="1.5"/>
<path d="M355.10,199.30 L355.10,196.40 M355.10,199.30 L357.86,198.40 M355.10,199.30 L356.80,201.65 M355.10,199.30 L353.40,201.65 M355.10,199.30 L352.34,198.40 " fill="none" stroke="#000" stroke-width="1.15"/>
<rect x="412.1" y="208.6" width="8" height="8" fill="#000"/>
<text x="422.4" y="217.2" font-size="11.2" font-weight="normal" text-anchor="start" word-spacing="1">CD43</text>
<rect x="413.3" y="229.5" width="5.6" height="5.6" fill="#868686" stroke="#000" stroke-width="2.4"/>
<text x="422.4" y="236.9" font-size="11.2" font-weight="normal" text-anchor="start" word-spacing="1">Chimera MP</text>
<rect x="413.3" y="249.2" width="5.6" height="5.6" fill="#fff" stroke="#000" stroke-width="2.4"/>
<text x="422.4" y="257.2" font-size="11.2" font-weight="normal" text-anchor="start" word-spacing="1">Chimera TM</text>
<text x="3" y="324" font-size="16.5" font-weight="bold" text-anchor="start" >C</text>
<line x1="79.6" y1="316.6" x2="79.6" y2="409.6" stroke="#000" stroke-width="3.0" />
<line x1="78.2" y1="408.5" x2="310" y2="408.5" stroke="#000" stroke-width="2.3" />
<line x1="75" y1="408.8" x2="79" y2="408.8" stroke="#000" stroke-width="1.9" />
<text x="69.3" y="413.6" font-size="11.4" font-weight="normal" text-anchor="end" >0</text>
<line x1="75" y1="386.0" x2="79" y2="386.0" stroke="#000" stroke-width="1.9" />
<text x="69.3" y="390.8" font-size="11.4" font-weight="normal" text-anchor="end" >10</text>
<line x1="75" y1="363.20000000000005" x2="79" y2="363.20000000000005" stroke="#000" stroke-width="1.9" />
<text x="69.3" y="368.00000000000006" font-size="11.4" font-weight="normal" text-anchor="end" >20</text>
<line x1="75" y1="340.40000000000003" x2="79" y2="340.40000000000003" stroke="#000" stroke-width="1.9" />
<text x="69.3" y="345.20000000000005" font-size="11.4" font-weight="normal" text-anchor="end" >30</text>
<line x1="75" y1="317.6" x2="79" y2="317.6" stroke="#000" stroke-width="1.9" />
<text x="69.3" y="322.40000000000003" font-size="11.4" font-weight="normal" text-anchor="end" >40</text>
<text transform="translate(46.3,364.0) rotate(-90)" font-size="11.4" font-weight="bold" text-anchor="middle" >GFP+ %</text>
<rect x="123.70" y="400.50" width="13.90" height="7.00" fill="#e0e0e0" stroke="#000" stroke-width="2.2"/>
<rect x="110.80" y="395.60" width="12.90" height="11.90" fill="#868686" stroke="#000" stroke-width="2.2"/>
<rect x="97.50" y="398.00" width="14.40" height="10.60" fill="#000"/>
<line x1="105.6" y1="395.2" x2="105.6" y2="398.0" stroke="#000" stroke-width="1.5" />
<line x1="103.0" y1="395.2" x2="108.19999999999999" y2="395.2" stroke="#000" stroke-width="1.5" />
<line x1="118.6" y1="390.2" x2="118.6" y2="400.9" stroke="#000" stroke-width="1.5" />
<line x1="115.69999999999999" y1="390.2" x2="121.5" y2="390.2" stroke="#000" stroke-width="1.5" />
<line x1="115.69999999999999" y1="400.9" x2="121.5" y2="400.9" stroke="#000" stroke-width="1.5" />
<line x1="131" y1="395.4" x2="131" y2="405.5" stroke="#000" stroke-width="1.5" />
<line x1="128.1" y1="395.4" x2="133.9" y2="395.4" stroke="#000" stroke-width="1.5" />
<line x1="128.1" y1="405.5" x2="133.9" y2="405.5" stroke="#000" stroke-width="1.5" />
<rect x="200.80" y="392.80" width="12.90" height="14.70" fill="#e0e0e0" stroke="#000" stroke-width="2.2"/>
<rect x="188.10" y="387.90" width="12.70" height="19.60" fill="#868686" stroke="#000" stroke-width="2.2"/>
<rect x="175.20" y="385.60" width="14.00" height="23.00" fill="#000"/>
<line x1="182.3" y1="374.4" x2="182.3" y2="385.6" stroke="#000" stroke-width="1.5" />
<line x1="179.70000000000002" y1="374.4" x2="184.9" y2="374.4" stroke="#000" stroke-width="1.5" />
<line x1="195" y1="380.8" x2="195" y2="396.3" stroke="#000" stroke-width="1.5" />
<line x1="192.1" y1="380.8" x2="197.9" y2="380.8" stroke="#000" stroke-width="1.5" />
<line x1="192.1" y1="396.3" x2="197.9" y2="396.3" stroke="#000" stroke-width="1.5" />
<line x1="207.7" y1="388.3" x2="207.7" y2="398.7" stroke="#000" stroke-width="1.5" />
<line x1="204.79999999999998" y1="388.3" x2="210.6" y2="388.3" stroke="#000" stroke-width="1.5" />
<line x1="204.79999999999998" y1="398.7" x2="210.6" y2="398.7" stroke="#000" stroke-width="1.5" />
<rect x="278.20" y="341.10" width="12.60" height="66.40" fill="#e0e0e0" stroke="#000" stroke-width="2.2"/>
<rect x="264.50" y="358.85" width="13.70" height="48.65" fill="#868686" stroke="#000" stroke-width="2.2"/>
<rect x="251.25" y="347.75" width="14.35" height="60.85" fill="#000"/>
<line x1="259.4" y1="333.1" x2="259.4" y2="347.75" stroke="#000" stroke-width="1.5" />
<line x1="256.79999999999995" y1="333.1" x2="262.0" y2="333.1" stroke="#000" stroke-width="1.5" />
<line x1="271.25" y1="344.6" x2="271.25" y2="372.5" stroke="#000" stroke-width="1.5" />
<line x1="268.35" y1="344.6" x2="274.15" y2="344.6" stroke="#000" stroke-width="1.5" />
<line x1="268.35" y1="372.5" x2="274.15" y2="372.5" stroke="#000" stroke-width="1.5" />
<line x1="284.75" y1="325.25" x2="284.75" y2="357.5" stroke="#000" stroke-width="1.5" />
<line x1="281.85" y1="325.25" x2="287.65" y2="325.25" stroke="#000" stroke-width="1.5" />
<line x1="281.85" y1="357.5" x2="287.65" y2="357.5" stroke="#000" stroke-width="1.5" />
<text x="118.4" y="431.3" font-size="11.6" font-weight="normal" text-anchor="middle" >Day 2</text>
<text x="194.6" y="431.3" font-size="11.6" font-weight="normal" text-anchor="middle" >Day 4</text>
<text x="271.3" y="431.3" font-size="11.6" font-weight="normal" text-anchor="middle" >Day 8</text>
<text x="194.5" y="453.0" font-size="11.3" font-weight="bold" text-anchor="middle" >SCF &amp; M-CSF</text>
<rect x="326.5" y="363.3" width="8" height="8" fill="#000"/>
<text x="336.5" y="371.9" font-size="11.2" font-weight="normal" text-anchor="start" word-spacing="1">CD43</text>
<rect x="327.7" y="384.7" width="5.6" height="5.6" fill="#868686" stroke="#000" stroke-width="2.4"/>
<text x="336.5" y="392.2" font-size="11.2" font-weight="normal" text-anchor="start" word-spacing="1">Chimera MP</text>
<rect x="327.7" y="404.7" width="5.6" height="5.6" fill="#fff" stroke="#000" stroke-width="2.4"/>
<text x="336.5" y="412.3" font-size="11.2" font-weight="normal" text-anchor="start" word-spacing="1">Chimera TM</text>
<line x1="79.6" y1="467.1" x2="79.6" y2="568.5" stroke="#000" stroke-width="3.0" />
<line x1="78.2" y1="567.5" x2="315.5" y2="567.5" stroke="#000" stroke-width="2.4" />
<line x1="75.5" y1="567.8" x2="79" y2="567.8" stroke="#000" stroke-width="1.9" />
<text x="69.3" y="572.5999999999999" font-size="11.4" font-weight="normal" text-anchor="end" >0</text>
<line x1="75.5" y1="547.9" x2="79" y2="547.9" stroke="#000" stroke-width="1.9" />
<text x="69.3" y="552.6999999999999" font-size="11.4" font-weight="normal" text-anchor="end" >10</text>
<line x1="75.5" y1="528.0" x2="79" y2="528.0" stroke="#000" stroke-width="1.9" />
<text x="69.3" y="532.8" font-size="11.4" font-weight="normal" text-anchor="end" >20</text>
<line x1="75.5" y1="508.09999999999997" x2="79" y2="508.09999999999997" stroke="#000" stroke-width="1.9" />
<text x="69.3" y="512.9" font-size="11.4" font-weight="normal" text-anchor="end" >30</text>
<line x1="75.5" y1="488.19999999999993" x2="79" y2="488.19999999999993" stroke="#000" stroke-width="1.9" />
<text x="69.3" y="492.99999999999994" font-size="11.4" font-weight="normal" text-anchor="end" >40</text>
<line x1="75.5" y1="468.29999999999995" x2="79" y2="468.29999999999995" stroke="#000" stroke-width="1.9" />
<text x="69.3" y="473.09999999999997" font-size="11.4" font-weight="normal" text-anchor="end" >50</text>
<text transform="translate(46.3,518.7) rotate(-90)" font-size="11.4" font-weight="bold" text-anchor="middle" >GFP+ %</text>
<rect x="124.90" y="564.00" width="13.85" height="2.40" fill="#fff" stroke="#000" stroke-width="2.2"/>
<rect x="112.55" y="564.30" width="12.35" height="2.10" fill="#868686" stroke="#000" stroke-width="2.2"/>
<rect x="99.00" y="562.30" width="14.65" height="5.20" fill="#000"/>
<line x1="107.1" y1="557.85" x2="107.1" y2="570.2" stroke="#000" stroke-width="1.5" />
<line x1="104.5" y1="557.85" x2="109.69999999999999" y2="557.85" stroke="#000" stroke-width="1.5" />
<line x1="104.5" y1="570.2" x2="109.69999999999999" y2="570.2" stroke="#000" stroke-width="1.5" />
<line x1="120.2" y1="556.9" x2="120.2" y2="571.9" stroke="#000" stroke-width="1.5" />
<line x1="117.3" y1="556.9" x2="123.10000000000001" y2="556.9" stroke="#000" stroke-width="1.5" />
<line x1="117.3" y1="571.9" x2="123.10000000000001" y2="571.9" stroke="#000" stroke-width="1.5" />
<line x1="132.7" y1="556.9" x2="132.7" y2="572.5" stroke="#000" stroke-width="1.5" />
<line x1="129.79999999999998" y1="556.9" x2="135.6" y2="556.9" stroke="#000" stroke-width="1.5" />
<line x1="129.79999999999998" y1="572.5" x2="135.6" y2="572.5" stroke="#000" stroke-width="1.5" />
<rect x="203.50" y="564.10" width="14.10" height="2.30" fill="#fff" stroke="#000" stroke-width="2.2"/>
<rect x="190.80" y="558.20" width="12.70" height="8.20" fill="#868686" stroke="#000" stroke-width="2.2"/>
<rect x="177.15" y="549.00" width="14.75" height="18.50" fill="#000"/>
<line x1="185" y1="538.65" x2="185" y2="549" stroke="#000" stroke-width="1.5" />
<line x1="182.4" y1="538.65" x2="187.6" y2="538.65" stroke="#000" stroke-width="1.5" />
<line x1="198.3" y1="547.1" x2="198.3" y2="569.2" stroke="#000" stroke-width="1.5" />
<line x1="195.4" y1="547.1" x2="201.20000000000002" y2="547.1" stroke="#000" stroke-width="1.5" />
<line x1="195.4" y1="569.2" x2="201.20000000000002" y2="569.2" stroke="#000" stroke-width="1.5" />
<line x1="211.3" y1="554.6" x2="211.3" y2="574.8" stroke="#000" stroke-width="1.5" />
<line x1="208.4" y1="554.6" x2="214.20000000000002" y2="554.6" stroke="#000" stroke-width="1.5" />
<line x1="208.4" y1="574.8" x2="214.20000000000002" y2="574.8" stroke="#000" stroke-width="1.5" />
<rect x="281.65" y="559.20" width="13.50" height="7.20" fill="#fff" stroke="#000" stroke-width="2.2"/>
<rect x="269.60" y="545.10" width="12.05" height="21.30" fill="#868686" stroke="#000" stroke-width="2.2"/>
<rect x="255.00" y="494.75" width="15.70" height="72.75" fill="#000"/>
<line x1="263.5" y1="479.75" x2="263.5" y2="494.75" stroke="#000" stroke-width="1.5" />
<line x1="260.9" y1="479.75" x2="266.1" y2="479.75" stroke="#000" stroke-width="1.5" />
<line x1="276.25" y1="533.4" x2="276.25" y2="557.25" stroke="#000" stroke-width="1.5" />
<line x1="273.35" y1="533.4" x2="279.15" y2="533.4" stroke="#000" stroke-width="1.5" />
<line x1="273.35" y1="557.25" x2="279.15" y2="557.25" stroke="#000" stroke-width="1.5" />
<line x1="289.4" y1="548.5" x2="289.4" y2="568.75" stroke="#000" stroke-width="1.5" />
<line x1="286.5" y1="548.5" x2="292.29999999999995" y2="548.5" stroke="#000" stroke-width="1.5" />
<line x1="286.5" y1="568.75" x2="292.29999999999995" y2="568.75" stroke="#000" stroke-width="1.5" />
<text x="119.6" y="590.0" font-size="11.6" font-weight="normal" text-anchor="middle" >Day 2</text>
<text x="197.6" y="590.0" font-size="11.6" font-weight="normal" text-anchor="middle" >Day 4</text>
<text x="275.8" y="590.0" font-size="11.6" font-weight="normal" text-anchor="middle" >Day 8</text>
<path d="M261.35,477.25 L261.35,472.85 L287.35,472.85 L287.35,477.25" fill="none" stroke="#000" stroke-width="1.5"/>
<path d="M269.65,467.40 L269.65,464.50 M269.65,467.40 L272.41,466.50 M269.65,467.40 L271.35,469.75 M269.65,467.40 L267.95,469.75 M269.65,467.40 L266.89,466.50 " fill="none" stroke="#000" stroke-width="1.15"/>
<path d="M276.75,467.40 L276.75,464.50 M276.75,467.40 L279.51,466.50 M276.75,467.40 L278.45,469.75 M276.75,467.40 L275.05,469.75 M276.75,467.40 L273.99,466.50 " fill="none" stroke="#000" stroke-width="1.15"/>
<path d="M275.75,530.6 L275.75,526.35 L288.0,526.35 L288.0,530.6" fill="none" stroke="#000" stroke-width="1.5"/>
<path d="M282.00,521.90 L282.00,519.00 M282.00,521.90 L284.76,521.00 M282.00,521.90 L283.70,524.25 M282.00,521.90 L280.30,524.25 M282.00,521.90 L279.24,521.00 " fill="none" stroke="#000" stroke-width="1.15"/>
<text x="197.6" y="612.1" font-size="11.2" font-weight="bold" text-anchor="middle" >IL3 &amp; G-CSF</text>
<rect x="332.3" y="518.2" width="8" height="8" fill="#000"/>
<text x="342.3" y="526.9" font-size="11.2" font-weight="normal" text-anchor="start" word-spacing="1">CD43</text>
<rect x="333.5" y="539.6" width="5.6" height="5.6" fill="#868686" stroke="#000" stroke-width="2.4"/>
<text x="342.3" y="547" font-size="11.2" font-weight="normal" text-anchor="start" word-spacing="1">Chimera MP</text>
<rect x="333.5" y="559.6" width="5.6" height="5.6" fill="#fff" stroke="#000" stroke-width="2.4"/>
<text x="342.3" y="567.3" font-size="11.2" font-weight="normal" text-anchor="start" word-spacing="1">Chimera TM</text>
<text x="3.3" y="632" font-size="16.5" font-weight="bold" text-anchor="start" >D</text>
<line x1="80.7" y1="627.2" x2="80.7" y2="729.75" stroke="#000" stroke-width="2.9" />
<line x1="79.3" y1="728.75" x2="233" y2="728.75" stroke="#000" stroke-width="2.6" />
<line x1="76.2" y1="728.9" x2="80" y2="728.9" stroke="#000" stroke-width="1.9" />
<text x="70.4" y="733.6" font-size="11.4" font-weight="normal" text-anchor="end" >0</text>
<line x1="76.2" y1="703.6999999999999" x2="80" y2="703.6999999999999" stroke="#000" stroke-width="1.9" />
<text x="70.4" y="708.4" font-size="11.4" font-weight="normal" text-anchor="end" >10</text>
<line x1="76.2" y1="678.5" x2="80" y2="678.5" stroke="#000" stroke-width="1.9" />
<text x="70.4" y="683.2" font-size="11.4" font-weight="normal" text-anchor="end" >20</text>
<line x1="76.2" y1="653.3" x2="80" y2="653.3" stroke="#000" stroke-width="1.9" />
<text x="70.4" y="658.0" font-size="11.4" font-weight="normal" text-anchor="end" >30</text>
<line x1="76.2" y1="628.1" x2="80" y2="628.1" stroke="#000" stroke-width="1.9" />
<text x="70.4" y="632.8000000000001" font-size="11.4" font-weight="normal" text-anchor="end" >40</text>
<text transform="translate(47.3,685.3) rotate(-90)" font-size="11.3" font-weight="bold" text-anchor="middle" word-spacing="0.7">PI+ &amp; AnnexinV+ %</text>
<rect x="125.25" y="686.35" width="12.40" height="41.05" fill="#c2c2c2" stroke="#000" stroke-width="2.7"/>
<rect x="111.55" y="696.95" width="13.70" height="30.45" fill="#5e5e5e" stroke="#000" stroke-width="2.7"/>
<rect x="99.00" y="696.25" width="13.90" height="32.50" fill="#000"/>
<line x1="106.9" y1="690" x2="106.9" y2="696.25" stroke="#000" stroke-width="1.5" />
<line x1="104.30000000000001" y1="690" x2="109.5" y2="690" stroke="#000" stroke-width="1.5" />
<line x1="119.4" y1="687.9" x2="119.4" y2="705.25" stroke="#000" stroke-width="1.5" />
<line x1="116.5" y1="687.9" x2="122.30000000000001" y2="687.9" stroke="#000" stroke-width="1.5" />
<line x1="116.5" y1="705.25" x2="122.30000000000001" y2="705.25" stroke="#000" stroke-width="1.5" />
<line x1="132.5" y1="680" x2="132.5" y2="693.75" stroke="#000" stroke-width="1.5" />
<line x1="129.6" y1="680" x2="135.4" y2="680" stroke="#000" stroke-width="1.5" />
<line x1="129.6" y1="693.75" x2="135.4" y2="693.75" stroke="#000" stroke-width="1.5" />
<rect x="200.90" y="659.10" width="12.75" height="68.30" fill="#c2c2c2" stroke="#000" stroke-width="2.7"/>
<rect x="188.60" y="683.25" width="12.30" height="44.15" fill="#5e5e5e" stroke="#000" stroke-width="2.7"/>
<rect x="174.00" y="704.00" width="13.50" height="24.75" fill="#000"/>
<line x1="181.9" y1="700.6" x2="181.9" y2="704" stroke="#000" stroke-width="1.5" />
<line x1="179.3" y1="700.6" x2="184.5" y2="700.6" stroke="#000" stroke-width="1.5" />
<line x1="195.4" y1="676.25" x2="195.4" y2="690" stroke="#000" stroke-width="1.5" />
<line x1="192.5" y1="676.25" x2="198.3" y2="676.25" stroke="#000" stroke-width="1.5" />
<line x1="192.5" y1="690" x2="198.3" y2="690" stroke="#000" stroke-width="1.5" />
<line x1="208.1" y1="651.6" x2="208.1" y2="666.5" stroke="#000" stroke-width="1.5" />
<line x1="205.2" y1="651.6" x2="211.0" y2="651.6" stroke="#000" stroke-width="1.5" />
<line x1="205.2" y1="666.5" x2="211.0" y2="666.5" stroke="#000" stroke-width="1.5" />
<path d="M181.75,648.75 L181.75,644.25 L206.5,644.25 L206.5,648.75" fill="none" stroke="#000" stroke-width="1.5"/>
<path d="M191.50,639.90 L191.50,637.00 M191.50,639.90 L194.26,639.00 M191.50,639.90 L193.20,642.25 M191.50,639.90 L189.80,642.25 M191.50,639.90 L188.74,639.00 " fill="none" stroke="#000" stroke-width="1.15"/>
<path d="M199.00,639.90 L199.00,637.00 M199.00,639.90 L201.76,639.00 M199.00,639.90 L200.70,642.25 M199.00,639.90 L197.30,642.25 M199.00,639.90 L196.24,639.00 " fill="none" stroke="#000" stroke-width="1.15"/>
<path d="M181.75,673.75 L181.75,669.75 L194.25,669.75 L194.25,673.75" fill="none" stroke="#000" stroke-width="1.5"/>
<path d="M188.10,664.90 L188.10,662.00 M188.10,664.90 L190.86,664.00 M188.10,664.90 L189.80,667.25 M188.10,664.90 L186.40,667.25 M188.10,664.90 L185.34,664.00 " fill="none" stroke="#000" stroke-width="1.15"/>
<text x="118.8" y="749.2" font-size="11.2" font-weight="normal" text-anchor="middle" >SCF &amp; M-CSF</text>
<text x="194.7" y="749.2" font-size="11.2" font-weight="normal" text-anchor="middle" >IL3 &amp; G-CSF</text>
<rect x="249.7" y="667.2" width="8" height="8" fill="#000"/>
<text x="259.8" y="676" font-size="11.2" font-weight="normal" text-anchor="start" word-spacing="1">CD43</text>
<rect x="250.89999999999998" y="689.0" width="5.6" height="5.6" fill="#5e5e5e" stroke="#000" stroke-width="2.4"/>
<text x="259.8" y="695.7" font-size="11.2" font-weight="normal" text-anchor="start" word-spacing="1">Chimera MP</text>
<rect x="250.89999999999998" y="709.2" width="5.6" height="5.6" fill="#fff" stroke="#000" stroke-width="2.4"/>
<text x="259.8" y="715.6" font-size="11.2" font-weight="normal" text-anchor="start" word-spacing="1">Chimera TM</text>
</svg></body></html>
